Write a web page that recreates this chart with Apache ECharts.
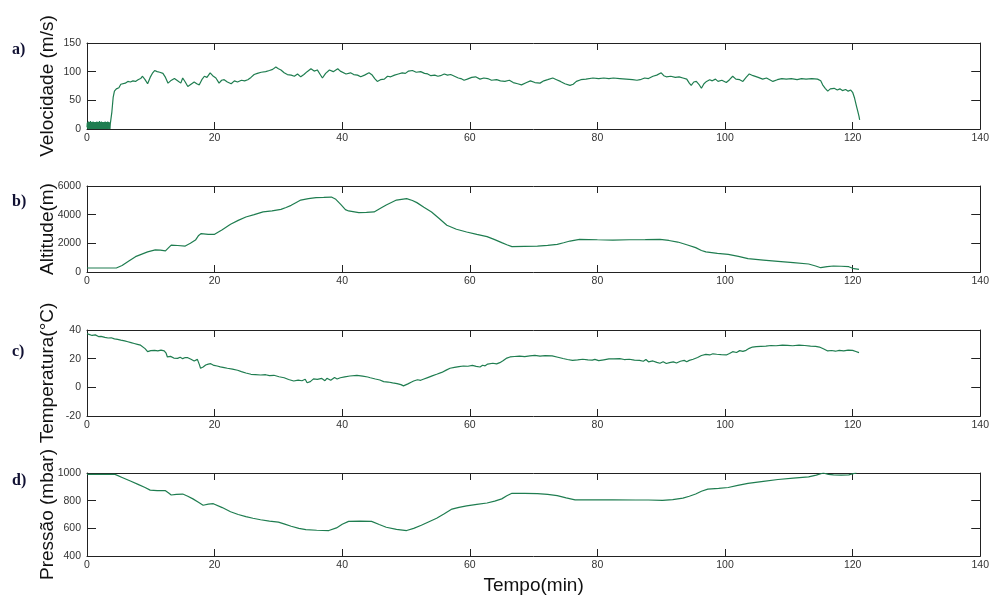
<!DOCTYPE html>
<html>
<head>
<meta charset="utf-8">
<script src="https://cdn.jsdelivr.net/npm/echarts@6/dist/echarts.min.js"></script>
<style>
	html, body { margin: 0; padding: 0; background: #fff; }
	#chart { width: 992px; height: 596px; }
</style>
</head>
<body>
<div id="chart"></div>
<script>
// eixo x comum (min)
var tempoTicks = [0, 20, 40, 60, 80, 100, 120, 140];

// a) velocidade (m/s) - pares [tempo, valor]
var velocidade = [
	[0, 3], [0.05, 11], [0.1, 1], [0.15, 12], [0.2, 0], [0.25, 13], [0.3, 2], [0.35, 10], [0.4, 0], [0.45, 12],
	[0.5, 1], [0.55, 14], [0.6, 0], [0.65, 11], [0.7, 2], [0.75, 12], [0.8, 0], [0.85, 10], [0.9, 1], [0.95, 13],
	[1.0, 0], [1.05, 11], [1.1, 3], [1.15, 12], [1.2, 0], [1.25, 10], [1.3, 1], [1.35, 12], [1.4, 0], [1.45, 11],
	[1.5, 2], [1.55, 13], [1.6, 0], [1.65, 10], [1.7, 1], [1.75, 12], [1.8, 0], [1.85, 11], [1.9, 2], [1.95, 14],
	[2.0, 0], [2.05, 12], [2.1, 1], [2.15, 10], [2.2, 0], [2.25, 13], [2.3, 2], [2.35, 11], [2.4, 0], [2.45, 12],
	[2.5, 1], [2.55, 10], [2.6, 0], [2.65, 12], [2.7, 3], [2.75, 11], [2.8, 0], [2.85, 13], [2.9, 1], [2.95, 10],
	[3.0, 0], [3.05, 12], [3.1, 2], [3.15, 11], [3.2, 0], [3.25, 13], [3.3, 1], [3.35, 10], [3.4, 0], [3.45, 12],
	[3.5, 2], [3.55, 11], [3.6, 0], [3.65, 9], [3.7, 8],
	[3.9, 30], [4.1, 55], [4.3, 66], [4.6, 70], [5.0, 72], [5.3, 78], [5.6, 81], [6.0, 80], [6.4, 83],
	[6.8, 82], [7.2, 84], [7.6, 83], [8.0, 86], [8.4, 88], [8.7, 92], [9.1, 86], [9.5, 79], [9.9, 90],
	[10.3, 98], [10.6, 102], [11.0, 100], [11.4, 99], [11.9, 97], [12.3, 90], [12.7, 80], [13.1, 84],
	[13.7, 88], [14.2, 84], [14.7, 80], [15.0, 89], [15.4, 82], [15.8, 74], [16.3, 78], [16.8, 82],
	[17.2, 79], [17.6, 77], [18.0, 86], [18.4, 92], [18.8, 90], [19.3, 98], [19.7, 93], [20.2, 89],
	[20.7, 80], [21.1, 85], [21.5, 86], [22.0, 82], [22.6, 79], [23.1, 84], [23.6, 82], [24.2, 85],
	[24.7, 84], [25.2, 86], [25.7, 90], [26.2, 95], [26.7, 97], [27.3, 99], [28.0, 100], [28.6, 102],
	[29.1, 104], [29.6, 108], [30.0, 105], [30.4, 103], [30.9, 98], [31.4, 95], [32.0, 94], [32.5, 92],
	[33.0, 96], [33.5, 91], [34.0, 95], [34.5, 100], [35.1, 105], [35.6, 101], [36.1, 103], [36.5, 96],
	[36.9, 89], [37.4, 97], [38.0, 103], [38.6, 100], [39.3, 105], [39.7, 101], [40.0, 98], [40.6, 96],
	[41.3, 98], [41.8, 95], [42.4, 94], [42.9, 91], [43.5, 94], [44.2, 98], [44.7, 94], [45.1, 88],
	[45.5, 83], [46.0, 86], [46.6, 87], [47.1, 92], [47.6, 91], [48.2, 94], [48.8, 96], [49.4, 98],
	[49.9, 97], [50.4, 101], [51.0, 102], [51.6, 99], [52.3, 100], [52.9, 97], [53.4, 96], [53.9, 93],
	[54.5, 94], [55.0, 92], [55.4, 93], [56.0, 96], [56.5, 94], [57.0, 95], [57.6, 92], [58.2, 89],
	[58.6, 88], [59.1, 85], [59.6, 87], [60.3, 90], [60.9, 91], [61.6, 87], [62.2, 89], [62.8, 88],
	[63.4, 85], [64.2, 86], [64.8, 84], [65.5, 83], [66.2, 85], [66.8, 81], [67.5, 79], [68.1, 77],
	[68.9, 81], [69.5, 84], [70.2, 81], [71.0, 80], [71.6, 84], [72.2, 86], [73.0, 89], [73.6, 86],
	[74.2, 83], [74.9, 79], [75.7, 76], [76.2, 78], [76.7, 83], [77.4, 86], [78.2, 87], [79.3, 89],
	[80.2, 88], [81.0, 89], [81.8, 88], [82.5, 89], [83.5, 88], [84.5, 87], [85.5, 86], [86.2, 85],
	[86.7, 86], [87.4, 89], [88.0, 88], [88.7, 92], [89.3, 94], [90.0, 98], [90.4, 93], [90.8, 91],
	[91.5, 92], [92.2, 90], [92.8, 91], [93.4, 89], [94.0, 87], [94.4, 80], [94.7, 76], [95.1, 82],
	[95.5, 83], [95.9, 78], [96.3, 71], [96.7, 79], [97.1, 83], [97.6, 86], [98.0, 84], [98.5, 87],
	[98.9, 83], [99.5, 85], [100.2, 81], [100.7, 86], [101.2, 92], [101.7, 87], [102.3, 86], [102.8, 83],
	[103.3, 90], [103.8, 96], [104.4, 93], [105.2, 90], [105.9, 87], [106.5, 89], [107.0, 86], [107.5, 83],
	[108.2, 86], [108.9, 88], [109.6, 87], [110.4, 88], [111.3, 86], [112.0, 88], [112.7, 87], [113.6, 88],
	[114.5, 87], [115.0, 84], [115.3, 77], [115.7, 71], [116.1, 66], [116.5, 70], [117.1, 71], [117.6, 68],
	[118.0, 70], [118.4, 67], [118.9, 69], [119.3, 66], [119.7, 68], [120.0, 64], [120.3, 54], [120.6, 40],
	[120.8, 31], [121.0, 22], [121.1, 16]
];

// b) altitude (m)
var altitude = [
	[0, 280], [1, 280], [2, 280], [3, 280], [4.6, 280], [5.5, 450], [6.5, 750], [7.6, 1070], [8.5, 1230],
	[9.5, 1400], [10.7, 1540], [11.5, 1520], [12.3, 1470], [12.8, 1700], [13.2, 1880], [14.2, 1850],
	[15.4, 1810], [16.2, 2000], [17.0, 2230], [17.5, 2550], [17.9, 2680], [19.0, 2620], [20.0, 2630],
	[21.2, 2950], [22.5, 3330], [23.7, 3600], [24.9, 3840], [26.2, 4000], [27.6, 4190], [29.0, 4270],
	[30.4, 4370], [31.2, 4500], [32.0, 4650], [32.8, 4850], [33.5, 5020], [34.7, 5120], [35.9, 5190],
	[37.1, 5200], [38.3, 5230], [39.0, 5070], [39.8, 4700], [40.5, 4350], [41.0, 4260], [42.6, 4140],
	[43.8, 4160], [45.0, 4190], [46.0, 4450], [46.9, 4680], [48.5, 5020], [50.1, 5120], [51.0, 4990],
	[51.7, 4840], [52.8, 4520], [54.0, 4190], [55.2, 3730], [56.4, 3260], [57.9, 2980], [59.5, 2790],
	[61.1, 2620], [62.7, 2470], [63.9, 2260], [65.0, 2050], [65.8, 1900], [66.6, 1770], [68.6, 1790],
	[70.6, 1810], [72.2, 1860], [73.7, 1930], [74.7, 2040], [75.7, 2160], [77.2, 2280], [80.0, 2250],
	[82.4, 2230], [85.0, 2250], [87.5, 2260], [89.8, 2280], [91.2, 2200], [92.6, 2090], [94.0, 1900],
	[95.4, 1700], [96.3, 1500], [97.0, 1400], [98.8, 1300], [100.5, 1230], [102.1, 1090], [103.6, 930],
	[106.0, 830], [108.3, 740], [110.7, 650], [113.1, 560], [114.2, 420], [115.0, 300], [116.0, 370],
	[117.0, 420], [118.2, 400], [119.4, 370], [120.2, 230], [121.0, 180]
];

// c) temperatura (°C)
var temperatura = [
	[0.0, 37.5], [0.3, 37.0], [0.8, 36.2], [1.3, 36.6], [1.8, 35.4], [2.2, 35.6], [2.8, 34.9], [3.3, 34.4],
	[3.8, 34.6], [4.3, 33.8], [4.8, 33.5], [5.3, 32.9], [5.9, 32.4], [6.4, 31.8], [6.9, 31.2], [7.4, 30.6],
	[7.9, 30.0], [8.4, 29.4], [8.7, 28.8], [9.1, 27.0], [9.5, 24.9], [10.0, 25.6], [10.6, 25.8], [11.1, 25.4],
	[11.6, 25.9], [12.1, 25.4], [12.4, 23.8], [12.6, 21.2], [13.1, 21.6], [13.6, 20.4], [14.2, 20.2],
	[14.6, 21.0], [15.0, 20.0], [15.4, 20.8], [15.8, 20.7], [16.3, 19.6], [16.8, 18.4], [17.3, 19.5],
	[17.6, 16.0], [17.8, 13.3], [18.2, 14.2], [18.6, 15.6], [19.0, 16.2], [19.4, 16.5], [19.9, 15.3],
	[20.4, 14.9], [20.9, 14.3], [21.5, 13.8], [22.0, 13.3], [22.8, 12.7], [23.6, 11.9], [24.2, 11.0],
	[24.9, 10.0], [25.7, 9.1], [26.4, 8.9], [27.2, 8.6], [28.0, 8.8], [28.6, 8.2], [29.3, 8.4], [30.1, 7.4],
	[30.9, 6.7], [31.6, 5.5], [32.4, 4.4], [33.1, 5.0], [33.7, 4.6], [34.2, 5.6], [34.5, 3.2], [35.0, 4.0],
	[35.5, 5.9], [36.1, 5.6], [36.8, 6.2], [37.3, 4.6], [37.6, 6.3], [38.2, 4.9], [38.8, 6.8], [39.2, 5.8],
	[39.7, 6.7], [40.4, 7.3], [41.2, 7.9], [42.3, 8.4], [43.2, 7.8], [44.0, 7.2], [44.4, 6.7], [45.2, 5.8],
	[45.9, 5.1], [46.5, 4.0], [47.2, 3.7], [47.9, 3.1], [48.6, 2.6], [49.2, 1.9], [49.6, 1.0], [49.9, -0.2],
	[50.3, 2.4], [50.8, 3.6], [51.2, 4.4], [51.8, 5.3], [52.3, 4.9], [52.7, 5.6], [53.4, 6.8], [54.1, 8.0],
	[54.8, 9.1], [55.6, 10.4], [56.3, 12.0], [56.9, 13.3], [57.6, 13.9], [58.3, 14.5], [59.0, 14.9],
	[59.7, 14.7], [60.4, 15.3], [61.0, 14.6], [61.6, 14.2], [62.0, 15.4], [62.4, 15.0], [62.8, 16.2],
	[63.1, 16.0], [63.6, 16.8], [64.2, 16.4], [64.7, 17.2], [65.2, 18.5], [65.8, 20.4], [66.3, 21.2],
	[67.0, 21.5], [67.8, 21.8], [68.6, 21.4], [69.4, 21.9], [70.2, 22.3], [71.0, 21.8], [71.8, 22.1],
	[72.9, 21.9], [73.8, 21.0], [74.6, 20.1], [75.3, 19.4], [76.1, 18.8], [76.9, 19.1], [77.7, 19.6],
	[78.5, 19.2], [79.2, 19.0], [79.6, 19.5], [80.2, 18.6], [81.0, 19.2], [81.8, 19.8], [82.6, 19.9],
	[83.5, 20.0], [84.2, 19.4], [85.0, 19.6], [85.8, 19.0], [86.6, 18.8], [87.2, 18.2], [87.6, 19.4],
	[88.0, 17.8], [88.7, 18.4], [89.3, 17.4], [89.8, 16.8], [90.3, 17.9], [90.8, 16.6], [91.3, 17.2],
	[91.9, 17.8], [92.4, 17.0], [93.0, 18.2], [93.6, 18.8], [94.0, 17.9], [94.4, 18.8], [95.0, 19.6],
	[95.7, 20.8], [96.3, 22.2], [97.0, 23.0], [97.6, 22.6], [98.1, 23.4], [98.7, 23.1], [99.4, 22.8],
	[100.2, 22.6], [100.7, 23.6], [101.2, 24.9], [101.8, 24.3], [102.3, 25.6], [102.8, 25.1], [103.3, 25.8],
	[103.8, 27.2], [104.3, 28.1], [104.9, 28.4], [105.6, 28.6], [106.4, 28.8], [107.2, 29.2], [108.0, 29.0],
	[109.0, 29.5], [109.8, 29.3], [110.6, 29.0], [111.6, 29.5], [112.5, 29.2], [113.4, 28.8], [114.2, 28.6],
	[114.8, 28.1], [115.4, 26.9], [116.1, 25.4], [116.7, 25.7], [117.3, 25.2], [117.9, 25.8], [118.6, 25.4],
	[119.3, 25.9], [120.0, 25.8], [120.5, 25.0], [121.0, 24.2]
];

// d) pressao (mbar)
var pressao = [
	[0, 990], [1, 990], [2, 990], [3, 990], [4.4, 990], [5.5, 968], [6.8, 942], [8.0, 918], [9.1, 895],
	[9.9, 876], [11.0, 873], [12.3, 872], [12.8, 855], [13.2, 841], [14.0, 846], [15.0, 848], [15.8, 832],
	[16.6, 813], [17.4, 790], [18.2, 767], [19.0, 775], [19.8, 778], [21.2, 750], [22.5, 720], [23.7, 700],
	[24.9, 685], [26.0, 673], [27.2, 662], [28.6, 652], [30.0, 645], [31.0, 630], [32.0, 615], [33.2, 600],
	[34.3, 591], [36.0, 586], [37.9, 584], [39.1, 603], [40.0, 630], [41.0, 650], [42.8, 652], [44.6, 650],
	[45.8, 628], [46.9, 608], [48.5, 592], [50.1, 584], [51.2, 600], [52.4, 622], [53.6, 648], [54.8, 673],
	[56.0, 705], [57.2, 739], [58.3, 752], [59.5, 762], [61.1, 773], [62.7, 783], [63.9, 797], [65.0, 813],
	[65.8, 835], [66.6, 853], [68.6, 852], [70.6, 851], [72.2, 845], [73.7, 837], [75.1, 820], [76.5, 806],
	[79.5, 806], [82.4, 806], [86.0, 805], [88.0, 805], [90.2, 802], [91.8, 808], [93.4, 818], [94.4, 832],
	[95.4, 848], [96.3, 868], [97.3, 883], [99.0, 889], [100.5, 895], [102.0, 910], [103.6, 925],
	[106.0, 940], [108.3, 953], [110.7, 963], [113.1, 972], [114.3, 985], [115.4, 1000], [116.2, 990],
	[117.0, 986], [118.2, 985], [119.4, 986], [120.1, 995], [120.6, 1000]
];

var paineis = [
	{ letra: 'a)', nome: 'Velocidade (m/s)', dados: velocidade, min: 0, max: 150, intervalo: 50, top: 43, letraY: 51 },
	{ letra: 'b)', nome: 'Altitude(m)', dados: altitude, min: 0, max: 6000, intervalo: 2000, top: 186, letraY: 203 },
	{ letra: 'c)', nome: 'Temperatura(°C)', dados: temperatura, min: -20, max: 40, intervalo: 20, top: 330, letraY: 353 },
	{ letra: 'd)', nome: 'Pressão (mbar)', dados: pressao, min: 400, max: 1000, intervalo: 200, top: 473, letraY: 482 }
];

var corEixo = '#222';
var fonte = '"Liberation Sans", Arial, sans-serif';

var grid = [], xAxis = [], yAxis = [], series = [], graphic = [];

paineis.forEach(function(p, i) {
	grid.push({ left: 87, right: 11, top: p.top, height: 86 });

	// eixo x inferior com rotulos + superior so com ticks (caixa estilo matlab)
	['bottom', 'top'].forEach(function(pos) {
		var eixo = {
			gridIndex: i,
			type: 'value',
			position: pos,
			min: tempoTicks[0],
			max: tempoTicks[tempoTicks.length - 1],
			interval: 20,
			axisLine: { show: true, onZero: false, lineStyle: { color: corEixo, width: 1 } },
			axisTick: { show: true, inside: true, length: 7, lineStyle: { color: corEixo } },
			axisLabel: {
				show: pos === 'bottom',
				margin: 4,
				fontSize: 10.5,
				color: '#333',
				fontFamily: fonte,
				showMinLabel: true,
				showMaxLabel: true,
				formatter: function(v) { return String(v); }
			},
			splitLine: { show: false }
		};
		if (pos === 'bottom' && i === paineis.length - 1) {
			eixo.name = 'Tempo(min)';
			eixo.nameLocation = 'middle';
			eixo.nameGap = 20;
			eixo.nameMoveOverlap = false;
			eixo.nameTextStyle = { fontSize: 19, fontFamily: fonte, color: '#111' };
		}
		xAxis.push(eixo);
	});

	['left', 'right'].forEach(function(pos) {
		var eixo = {
			gridIndex: i,
			type: 'value',
			position: pos,
			min: p.min,
			max: p.max,
			interval: p.intervalo,
			axisLine: { show: true, onZero: false, lineStyle: { color: corEixo, width: 1 } },
			axisTick: { show: true, inside: true, length: 9, lineStyle: { color: corEixo } },
			axisLabel: {
				show: pos === 'left',
				margin: 6,
				fontSize: 10.5,
				color: '#333',
				fontFamily: fonte,
				showMinLabel: true,
				showMaxLabel: true,
				// sem separador de milhar
				formatter: function(v) { return String(v); }
			},
			splitLine: { show: false }
		};
		if (pos === 'left') {
			eixo.name = p.nome;
			eixo.nameLocation = 'middle';
			eixo.nameGap = 30;
			eixo.nameMoveOverlap = false;
			eixo.nameTextStyle = { fontSize: 19, fontFamily: fonte, color: '#111' };
		}
		yAxis.push(eixo);
	});

	series.push({
		type: 'line',
		xAxisIndex: 2 * i,
		yAxisIndex: 2 * i,
		data: p.dados,
		symbol: 'none',
		lineStyle: { color: '#1f7d50', width: 1.2 },
		animation: false
	});

	graphic.push({
		type: 'text',
		left: 12,
		top: p.letraY - 9,
		style: {
			text: p.letra,
			font: 'bold 16px "Liberation Serif", "Times New Roman", serif',
			fill: '#111133'
		}
	});
});

var chart = echarts.init(document.getElementById('chart'));
chart.setOption({
	backgroundColor: '#fff',
	animation: false,
	grid: grid,
	xAxis: xAxis,
	yAxis: yAxis,
	series: series,
	graphic: graphic
});
</script>
</body>
</html>
